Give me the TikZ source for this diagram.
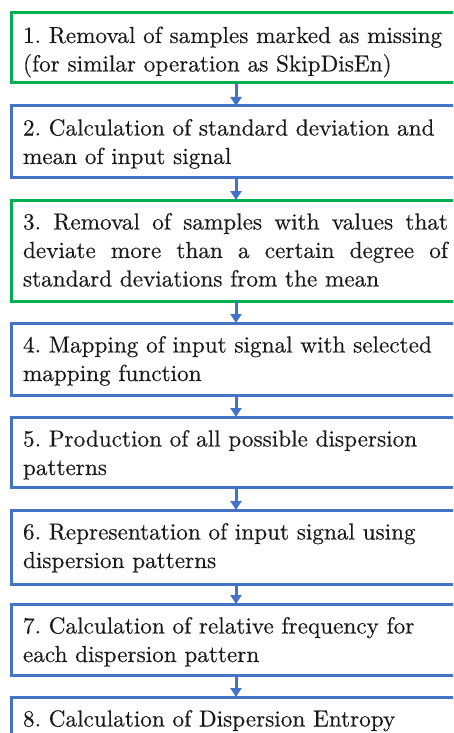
\documentclass[tikz,border=0pt]{standalone}
\usepackage{fontspec}
\newfontfamily\lmheavy{lmroman10-regular.otf}[FakeBold=0.3]
\usetikzlibrary{arrows.meta}
\definecolor{boxgreen}{HTML}{00B050}
\definecolor{boxblue}{HTML}{4472C4}
\frenchspacing
\begin{document}
\begin{tikzpicture}[x=1pt,y=-1pt,
  stepbox/.style={draw,line width=3pt,fill=white,outer sep=0pt,inner sep=0pt,
    anchor=north west,minimum width=450pt},
  greenbox/.style={stepbox,draw=boxgreen},
  bluebox/.style={stepbox,draw=boxblue},
  txt/.style={anchor=base west,inner sep=0pt,outer sep=0pt,text=black!90,
    font=\lmheavy\fontsize{23.2}{28}\selectfont\frenchspacing},
  flow/.style={draw=boxblue,line width=3pt,-{Triangle[width=11pt,length=9pt]}}]
\useasboundingbox (0,0) rectangle (453,733);
\clip (0,0) rectangle (453,733);
\fill[white] (0,0) rectangle (453,733);
% boxes
\node[greenbox,minimum height=70pt] (b1) at (11,13) {};
\node[bluebox,minimum height=71pt] (b2) at (11,106) {};
\node[greenbox,minimum height=101pt] (b3) at (11,200) {};
\node[bluebox,minimum height=72pt] (b4) at (11,323) {};
\node[bluebox,minimum height=70pt] (b5) at (11,417) {};
\node[bluebox,minimum height=74pt] (b6) at (11,510) {};
\node[bluebox,minimum height=71pt] (b7) at (11,604) {};
\node[bluebox,minimum height=72pt] (b8) at (11,697) {};
% texts
\node[txt] (t1a) at (23,43) {1. Removal of samples marked as missing};
\node[txt] (t1b) at (23,71.5) {(for similar operation as SkipDisEn)};
\node[txt] (t2a) at (23,135.5) {2. Calculation of standard deviation and};
\node[txt] (t2b) at (23,164) {mean of input signal};
\node[txt] (t3a) at (23,229.5) {\makebox[425pt][s]{3. Removal of samples with values that}};
\node[txt] (t3b) at (23,258) {\makebox[425pt][s]{deviate more than a certain degree of}};
\node[txt] (t3c) at (23,286.5) {standard deviations from the mean};
\node[txt] (t4a) at (23,352.5) {4. Mapping of input signal with selected};
\node[txt] (t4b) at (23,381) {mapping function};
\node[txt] (t5a) at (23,446.5) {5. Production of all possible dispersion};
\node[txt] (t5b) at (23,475) {patterns};
\node[txt] (t6a) at (23,539.5) {6. Representation of input signal using};
\node[txt] (t6b) at (23,568) {dispersion patterns};
\node[txt] (t7a) at (23,633.5) {7. Calculation of relative frequency for};
\node[txt] (t7b) at (23,662) {each dispersion pattern};
\node[txt] (t8a) at (23,726.5) {8. Calculation of Dispersion Entropy};
% arrows
\draw[flow] (b1) -- (b2);
\draw[flow] (b2) -- (b3);
\draw[flow] (b3) -- (b4);
\draw[flow] (b4) -- (b5);
\draw[flow] (b5) -- (b6);
\draw[flow] (b6) -- (b7);
\draw[flow] (b7) -- (b8);
\end{tikzpicture}
\end{document}
